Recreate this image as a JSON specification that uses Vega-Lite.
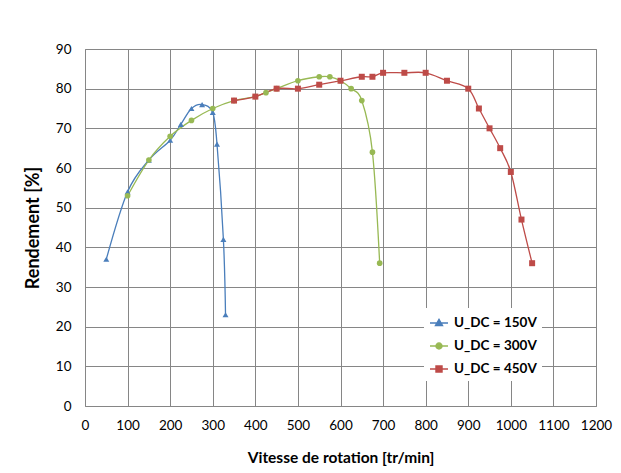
{
  "$schema": "https://vega.github.io/schema/vega-lite/v6.json",
  "autosize": "none",
  "width": 511,
  "height": 357,
  "padding": {"left": 85, "top": 49, "right": 25, "bottom": 67},
  "background": "white",
  "config": {
    "font": "Lato",
    "view": {"stroke": "#868686", "strokeWidth": 1},
    "axis": {
      "domain": false,
      "ticks": false,
      "grid": true,
      "gridColor": "#868686",
      "gridWidth": 1,
      "labelFont": "Lato",
      "labelFontSize": 13.5,
      "labelColor": "#000",
      "titleFont": "Lato",
      "titleFontWeight": "bold",
      "titleColor": "#000"
    }
  },
  "data": {
    "values": [
      {"x": 50, "y": 37, "s": "U_DC = 150V"},
      {"x": 100, "y": 54, "s": "U_DC = 150V"},
      {"x": 150, "y": 62, "s": "U_DC = 150V"},
      {"x": 200, "y": 67, "s": "U_DC = 150V"},
      {"x": 225, "y": 71, "s": "U_DC = 150V"},
      {"x": 250, "y": 75, "s": "U_DC = 150V"},
      {"x": 275, "y": 76, "s": "U_DC = 150V"},
      {"x": 300, "y": 74, "s": "U_DC = 150V"},
      {"x": 310, "y": 66, "s": "U_DC = 150V"},
      {"x": 325, "y": 42, "s": "U_DC = 150V"},
      {"x": 330, "y": 23, "s": "U_DC = 150V"},
      {"x": 100, "y": 53, "s": "U_DC = 300V"},
      {"x": 150, "y": 62, "s": "U_DC = 300V"},
      {"x": 200, "y": 68, "s": "U_DC = 300V"},
      {"x": 250, "y": 72, "s": "U_DC = 300V"},
      {"x": 300, "y": 75, "s": "U_DC = 300V"},
      {"x": 350, "y": 77, "s": "U_DC = 300V"},
      {"x": 400, "y": 78, "s": "U_DC = 300V"},
      {"x": 425, "y": 79, "s": "U_DC = 300V"},
      {"x": 450, "y": 80, "s": "U_DC = 300V"},
      {"x": 500, "y": 82, "s": "U_DC = 300V"},
      {"x": 550, "y": 83, "s": "U_DC = 300V"},
      {"x": 575, "y": 83, "s": "U_DC = 300V"},
      {"x": 600, "y": 82, "s": "U_DC = 300V"},
      {"x": 625, "y": 80, "s": "U_DC = 300V"},
      {"x": 650, "y": 77, "s": "U_DC = 300V"},
      {"x": 675, "y": 64, "s": "U_DC = 300V"},
      {"x": 692, "y": 36, "s": "U_DC = 300V"},
      {"x": 350, "y": 77, "s": "U_DC = 450V"},
      {"x": 400, "y": 78, "s": "U_DC = 450V"},
      {"x": 450, "y": 80, "s": "U_DC = 450V"},
      {"x": 500, "y": 80, "s": "U_DC = 450V"},
      {"x": 550, "y": 81, "s": "U_DC = 450V"},
      {"x": 600, "y": 82, "s": "U_DC = 450V"},
      {"x": 650, "y": 83, "s": "U_DC = 450V"},
      {"x": 675, "y": 83, "s": "U_DC = 450V"},
      {"x": 700, "y": 84, "s": "U_DC = 450V"},
      {"x": 750, "y": 84, "s": "U_DC = 450V"},
      {"x": 800, "y": 84, "s": "U_DC = 450V"},
      {"x": 850, "y": 82, "s": "U_DC = 450V"},
      {"x": 900, "y": 80, "s": "U_DC = 450V"},
      {"x": 925, "y": 75, "s": "U_DC = 450V"},
      {"x": 950, "y": 70, "s": "U_DC = 450V"},
      {"x": 975, "y": 65, "s": "U_DC = 450V"},
      {"x": 1000, "y": 59, "s": "U_DC = 450V"},
      {"x": 1025, "y": 47, "s": "U_DC = 450V"},
      {"x": 1050, "y": 36, "s": "U_DC = 450V"}
    ]
  },
  "encoding": {
    "x": {
      "field": "x", "type": "quantitative",
      "scale": {"domain": [0, 1200], "nice": false, "zero": true},
      "axis": {"title": "Vitesse de rotation [tr/min]", "format": "d", "titleFontSize": 15.5, "values": [0,100,200,300,400,500,600,700,800,900,1000,1100,1200], "labelPadding": 12, "titlePadding": 19, "labelFlush": false, "labelOverlap": false}
    },
    "y": {
      "field": "y", "type": "quantitative",
      "scale": {"domain": [0, 90], "nice": false},
      "axis": {"title": "Rendement [%]", "titleFontSize": 18, "values": [0,10,20,30,40,50,60,70,80,90], "labelPadding": 14, "titlePadding": 13}
    }
  },
  "layer": [
    {
      "mark": {"type": "line", "interpolate": "cardinal", "strokeWidth": 1.3},
      "encoding": {
        "color": {
          "field": "s", "type": "nominal",
          "scale": {"domain": ["U_DC = 150V", "U_DC = 300V", "U_DC = 450V"], "range": ["#4A7EBB", "#98B954", "#BE4B48"]},
          "legend": {
            "title": null,
            "orient": "none",
            "legendX": 339,
            "legendY": 259,
            "padding": 5,
            "fillColor": "white",
            "symbolSize": 324,
            "symbolStrokeWidth": 1.3,
            "rowPadding": 6,
            "labelOffset": 5,
            "labelFont": "Lato",
            "labelFontSize": 13.5,
            "labelFontWeight": "bold",
            "labelColor": "#000",
            "encode": {
              "symbols": {
                "update": {
                  "shape": {"signal": "datum.value === 'U_DC = 150V' ? 'M-1,0H1M0,-0.42L0.4,0.3H-0.4Z' : datum.value === 'U_DC = 300V' ? 'M-1,0H1M0.34,0A0.34,0.34,0,1,1,-0.34,0A0.34,0.34,0,1,1,0.34,0Z' : 'M-1,0H1M-0.34,-0.34H0.34V0.34H-0.34Z'"},
                  "fill": {"signal": "scale('color', datum.value)"},
                  "stroke": {"signal": "scale('color', datum.value)"},
                  "opacity": {"value": 1}
                }
              }
            }
          }
        }
      }
    },
    {
      "transform": [{"filter": "datum.s === 'U_DC = 150V'"}],
      "mark": {"type": "point", "filled": true, "opacity": 1, "size": 36, "shape": "triangle-up", "color": "#4A7EBB"}
    },
    {
      "transform": [{"filter": "datum.s === 'U_DC = 300V'"}],
      "mark": {"type": "point", "filled": true, "opacity": 1, "size": 32, "shape": "circle", "color": "#98B954"}
    },
    {
      "transform": [{"filter": "datum.s === 'U_DC = 450V'"}],
      "mark": {"type": "point", "filled": true, "opacity": 1, "size": 36, "shape": "square", "color": "#BE4B48"}
    }
  ]
}
